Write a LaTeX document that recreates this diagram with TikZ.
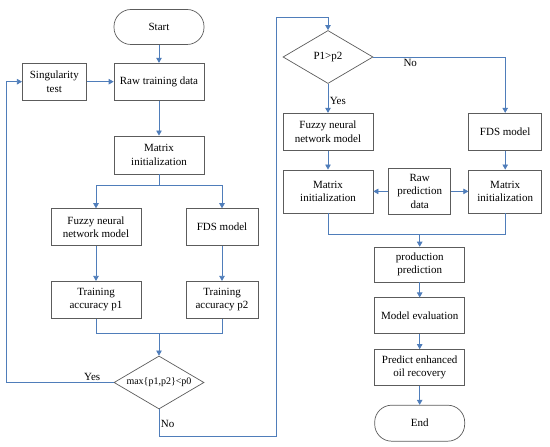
\documentclass[tikz,border=0pt]{standalone}
\usepackage{fontspec}
\setmainfont{Liberation Serif}
\usepackage{tikz}
\usetikzlibrary{shapes.geometric, arrows.meta, positioning, calc}

\definecolor{linkblue}{HTML}{4F7DBA}
\definecolor{boxgray}{HTML}{5C5C5C}

\begin{document}
\begin{tikzpicture}[
    x=1pt, y=1pt,
    >={Triangle[length=5pt,width=5.5pt]},
    box/.style={draw=boxgray, line width=0.7pt, minimum height=37pt, minimum width=90pt,
                font=\fontsize{11}{13.5}\selectfont, align=center, inner sep=2pt},
    narrowbox/.style={box, minimum width=72pt},
    termbox/.style={box, rounded corners=17pt, minimum height=35pt},
    decbox/.style={diamond, draw=boxgray, line width=0.7pt, aspect=1.7, inner sep=1pt,
                   minimum width=90pt, minimum height=53pt, font=\fontsize{10}{12}\selectfont},
    arr/.style={->, draw=linkblue, line width=0.7pt},
    lnk/.style={draw=linkblue, line width=0.7pt},
    lbl/.style={font=\fontsize{11}{13}\selectfont, inner sep=1.5pt},
]
\useasboundingbox (0,0) rectangle (550,447);

% === Left column: training ===
\node[termbox] (start) at (159,420) {Start};
\node[box, below=18pt of start] (rawtrain) {Raw training data};
\node[box, minimum width=64pt, left=27pt of rawtrain] (singtest) {Singularity\\test};
\node[box, below=35pt of rawtrain, minimum height=38pt] (matinit) {Matrix\\initialization};

\node[box, below=34pt of matinit, xshift=-63pt] (fnn) {Fuzzy neural\\network model};
\node[narrowbox, below=34pt of matinit, xshift=63pt] (fds) {FDS model};
\node[box, below=35pt of fnn] (accone) {Training\\accuracy p1};
\node[narrowbox, below=35pt of fds] (acctwo) {Training\\accuracy p2};

\node[decbox, below=37pt of accone, xshift=63pt] (maxtest) {max\{p1,p2\}<p0};

\draw[arr] (start) -- (rawtrain);
\draw[arr] (singtest) -- (rawtrain);
\draw[arr] (rawtrain) -- (matinit);
\draw[arr] (matinit.south) -- ++(0,-11) -| (fnn.north);
\draw[arr] (matinit.south) -- ++(0,-11) -| (fds.north);
\draw[arr] (fnn) -- (accone);
\draw[arr] (fds) -- (acctwo);

% merge of the two accuracies
\coordinate (jtrain) at ($(accone.south)!0.5!(acctwo.south)+(0,-15)$);
\draw[lnk] (accone.south) |- (jtrain) -| (acctwo.south);
\draw[arr] (jtrain) -- (maxtest);

% loop back when accuracy is too low
\draw[arr] (maxtest.west) -- node[lbl, above, pos=0.2] {Yes} ++(-107,0) |- (singtest.west);

% === Right column: prediction ===
\node[decbox, font=\fontsize{11}{13}\selectfont] (ptest) at (328,390) {P1>p2};
\node[box, below=29pt of ptest] (fnnsel) {Fuzzy neural\\network model};
\node[narrowbox, minimum width=73pt, right=95pt of fnnsel] (fdssel) {FDS model};
\node[box, below=19pt of fnnsel, minimum height=43pt] (matfnn) {Matrix\\initialization};
\node[narrowbox, minimum width=73pt, below=19pt of fdssel, minimum height=43pt] (matfds) {Matrix\\initialization};
\node[box, minimum width=62pt, minimum height=46pt, right=15pt of matfnn] (rawpred) {Raw\\prediction\\data};

\node[box, below=32pt of rawpred, minimum height=35pt] (prodpred) {production\\prediction};
\node[box, below=15pt of prodpred, minimum height=36pt] (modeval) {Model evaluation};
\node[box, below=15pt of modeval, minimum height=36pt] (eor) {Predict enhanced\\oil recovery};
\node[termbox, below=19pt of eor, minimum height=36pt] (stop) {End};

% accuracy good enough: go to model selection
\coordinate (upturn) at ($(ptest.north)+(-52,13)$);
\draw[arr] (maxtest.south) -- node[lbl, right, pos=0.55] {No} ++(0,-27) -| (upturn) -| (ptest.north);

\draw[arr] (ptest.east) -| node[lbl, below, pos=0.14] {No} (fdssel.north);
\draw[arr] (ptest.south) -- node[lbl, right, pos=0.6] {Yes} (fnnsel.north);
\draw[arr] (fnnsel) -- (matfnn);
\draw[arr] (fdssel) -- (matfds);
\draw[arr] (rawpred) -- (matfnn);
\draw[arr] (rawpred) -- (matfds);

\coordinate (jpred) at ($(matfnn.south)+(0,-21)$);
\draw[lnk] (matfnn.south) |- (jpred) -| (matfds.south);
\draw[arr] (jpred -| prodpred) -- (prodpred);

\draw[arr] (prodpred) -- (modeval);
\draw[arr] (modeval) -- (eor);
\draw[arr] (eor) -- (stop);

\end{tikzpicture}
\end{document}
